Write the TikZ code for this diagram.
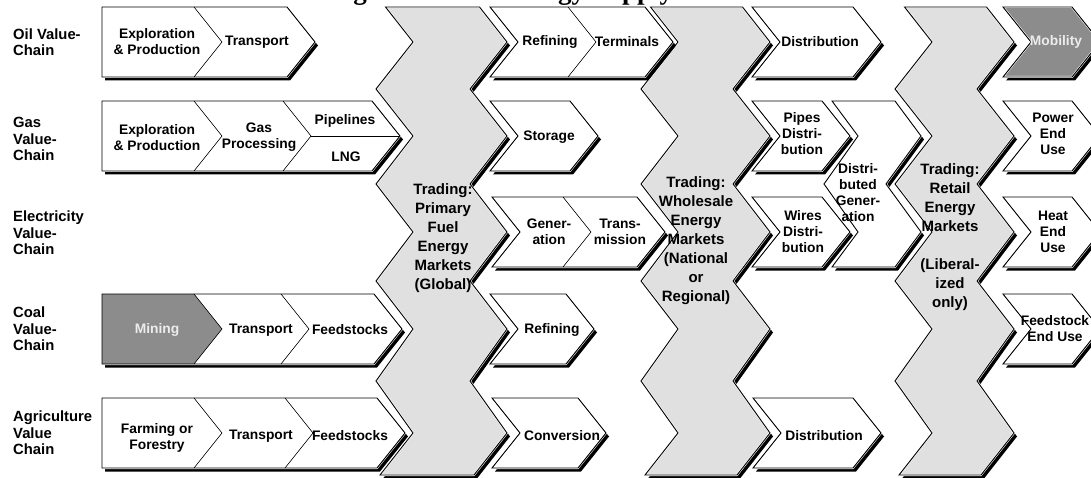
\documentclass[tikz,border=0pt]{standalone}
\usepackage{fontspec}
\setmainfont{Liberation Sans}
\newfontfamily\titlefont{Liberation Serif}

\definecolor{tradegray}{RGB}{224,224,224}
\definecolor{stepdark}{RGB}{140,140,140}
\definecolor{steptext}{RGB}{236,236,236}

% chevron boxes: x of top-left, x of top-right, y top, y bottom
\newcommand{\flatchev}[4]{(#1,#3) -- (#2,#3) -- ({#2+0.8*(#4-#3)/2},{(#3+#4)/2}) -- (#2,#4) -- (#1,#4) -- cycle}
\newcommand{\notchchev}[4]{(#1,#3) -- (#2,#3) -- ({#2+0.8*(#4-#3)/2},{(#3+#4)/2}) -- (#2,#4) -- (#1,#4) -- ({#1+0.8*(#4-#3)/2},{(#3+#4)/2}) -- cycle}
\newcommand{\divline}[3]{(#1,#2) -- ({#1+0.8*(#3-#2)/2},{(#2+#3)/2}) -- (#1,#3)}
% trading column: x of left peak, width
\newcommand{\tradepath}[2]{({#1-27.5},7) -- ({#1+#2-27.5},7) -- ({#1+#2},42) -- ({#1+#2-37},89) -- ({#1+#2},136) -- ({#1+#2-37},184) -- ({#1+#2},232) -- ({#1+#2-37},281) -- ({#1+#2},329) -- ({#1+#2-37},381) -- ({#1+#2},433) -- ({#1+#2-33},475) -- ({#1-33},475) -- (#1,433) -- ({#1-37},381) -- (#1,329) -- ({#1-37},281) -- (#1,232) -- ({#1-37},184) -- (#1,136) -- ({#1-37},89) -- (#1,42) -- cycle}
% shadow, fill, extra, outline
\newcommand{\valuebox}[3]{\fill[boxshadow] #1; \path[halo,fill=#2] #1; #3 \draw[outline] #1;}

\tikzset{
  boxshadow/.style={black, shift={(3,3.5)}},
  halo/.style={draw=white, line width=2pt},
  outline/.style={draw=black, line width=0.9pt},
  divider/.style={draw=black, line width=0.6pt},
  lbl/.style={font=\fontsize{13.8}{16}\selectfont\bfseries, align=center, inner sep=0pt},
  rowlbl/.style={lbl, align=left, anchor=west, font=\fontsize{14.8}{16.5}\selectfont\bfseries},
  tradelbl/.style={lbl, font=\fontsize{15}{19}\selectfont\bfseries},
  darklbl/.style={lbl, text=steptext},
}

\begin{document}
\begin{tikzpicture}[x=1pt,y=-1pt]
  \useasboundingbox (0,0) rectangle (1091,478);
  \begin{scope}
    \clip (0,0) rectangle (1091,478);
    \node[anchor=base west, inner sep=0pt, outer sep=0pt, font=\titlefont\fontsize{27}{30}\selectfont\bfseries] (title) at (205,-0.5) {Restructuring the Global Energy Supply Chain};

    % trading columns
    \valuebox{\tradepath{413}{94}}{tradegray}{}
    \valuebox{\tradepath{678}{92}}{tradegray}{}
    \valuebox{\tradepath{932}{82}}{tradegray}{}

    % upstream chains
    \valuebox{\flatchev{102}{287}{7}{77}}{white}{}
    \draw[divider] \divline{194}{7}{77};
    \valuebox{\flatchev{102}{372}{101}{171}}{white}{}
    \draw[divider] \divline{194}{101}{171};
    \draw[divider] \divline{283}{101}{171};
    \draw[divider] (311,136) -- (400,136);
    \valuebox{\flatchev{102}{374}{294}{364}}{white}{\fill[stepdark] \flatchev{102}{194}{294}{364};}
    \draw[divider] \divline{194}{294}{364};
    \draw[divider] \divline{281}{294}{364};
    \valuebox{\flatchev{102}{377}{398}{468}}{white}{}
    \draw[divider] \divline{194}{398}{468};
    \draw[divider] \divline{285}{398}{468};

    % middle column
    \valuebox{\notchchev{490}{645}{7}{77}}{white}{}
    \draw[divider] \divline{568}{7}{77};
    \valuebox{\notchchev{490}{570}{101}{171}}{white}{}
    \valuebox{\notchchev{492}{637}{197}{267}}{white}{}
    \draw[divider] \divline{563}{197}{267};
    \valuebox{\notchchev{490}{566}{294}{364}}{white}{}
    \valuebox{\notchchev{492}{578}{398}{468}}{white}{}

    % distribution column
    \valuebox{\notchchev{752}{853}{7}{77}}{white}{}
    \valuebox{\notchchev{752}{822}{101}{171}}{white}{}
    \valuebox{(832,101) -- (895,101) -- (921,136) -- (886,184) -- (921,232) -- (895,267) -- (832,267) -- (858,232) -- (824,184) -- (858,136) -- cycle}{white}{}
    \valuebox{\notchchev{752}{822}{197}{267}}{white}{}
    \valuebox{\notchchev{753}{853}{398}{468}}{white}{}

    % end use column
    \valuebox{\notchchev{1003}{1072}{7}{77}}{stepdark}{}
    \valuebox{\notchchev{1003}{1072}{101}{171}}{white}{}
    \valuebox{\notchchev{1003}{1072}{197}{267}}{white}{}
    \valuebox{\notchchev{1003}{1072}{294}{364}}{white}{}
  \end{scope}

  % row labels
  \node[rowlbl] (oillbl) at (13,42) {Oil Value-\\Chain};
  \node[rowlbl] (gaslbl) at (13,139) {Gas\\Value-\\Chain};
  \node[rowlbl] (eleclbl) at (13,233) {Electricity\\Value-\\Chain};
  \node[rowlbl] (coallbl) at (13,329) {Coal\\Value-\\Chain};
  \node[rowlbl] (agrilbl) at (13,433) {Agriculture\\Value\\Chain};

  % chain texts
  \node[lbl] (oilep) at (157,42) {Exploration\\\& Production};
  \node[lbl] (oiltr) at (257,42) {Transport};
  \node[lbl] (gasep) at (157,138) {Exploration\\\& Production};
  \node[lbl] (gasproc) at (259,137) {Gas\\Processing};
  \node[lbl] (gaspipe) at (345,121) {Pipelines};
  \node[lbl] (gaslng) at (346,157) {LNG};
  \node[darklbl] (coalmin) at (157,330) {Mining};
  \node[lbl] (coaltr) at (261,330) {Transport};
  \node[lbl] (coalfeed) at (350,330) {Feedstocks};
  \node[lbl] (agrifarm) at (157,438) {Farming or\\Forestry};
  \node[lbl] (agritr) at (261,436) {Transport};
  \node[lbl] (agrifeed) at (350,436) {Feedstocks};

  \node[tradelbl] (primelbl) at (443,238) {Trading:\\Primary\\Fuel\\Energy\\Markets\\(Global)};
  \node[tradelbl] (wholelbl) at (696,241) {Trading:\\Wholesale\\Energy\\Markets\\(National\\or\\Regional)};
  \node[tradelbl] (retaillbl) at (950,237) {Trading:\\Retail\\Energy\\Markets\\[19pt](Liberal-\\ized\\only)};

  \node[lbl] (oilref) at (550,42) {Refining};
  \node[lbl] (oilterm) at (627,42) {Terminals};
  \node[lbl] (gasstor) at (549,137) {Storage};
  \node[lbl] (elecgen) at (549,232) {Gener-\\ation};
  \node[lbl] (electrans) at (620,232) {Trans-\\mission};
  \node[lbl] (coalref) at (552,330) {Refining};
  \node[lbl] (agriconv) at (562,436) {Conversion};

  \node[lbl] (oildist) at (820,42) {Distribution};
  \node[lbl] (gaspipes) at (802,134) {Pipes\\Distri-\\bution};
  \node[lbl] (distgen) at (858,193) {Distri-\\buted\\Gener-\\ation};
  \node[lbl] (elecwires) at (803,232) {Wires\\Distri-\\bution};
  \node[lbl] (agridist) at (824,436) {Distribution};

  \node[darklbl] (mobil) at (1056,42) {Mobility};
  \node[lbl] (powuse) at (1053,134) {Power\\End\\Use};
  \node[lbl] (heatuse) at (1053,232) {Heat\\End\\Use};
  \node[lbl] (feeduse) at (1055,329) {Feedstock\\End Use};
\end{tikzpicture}
\end{document}
